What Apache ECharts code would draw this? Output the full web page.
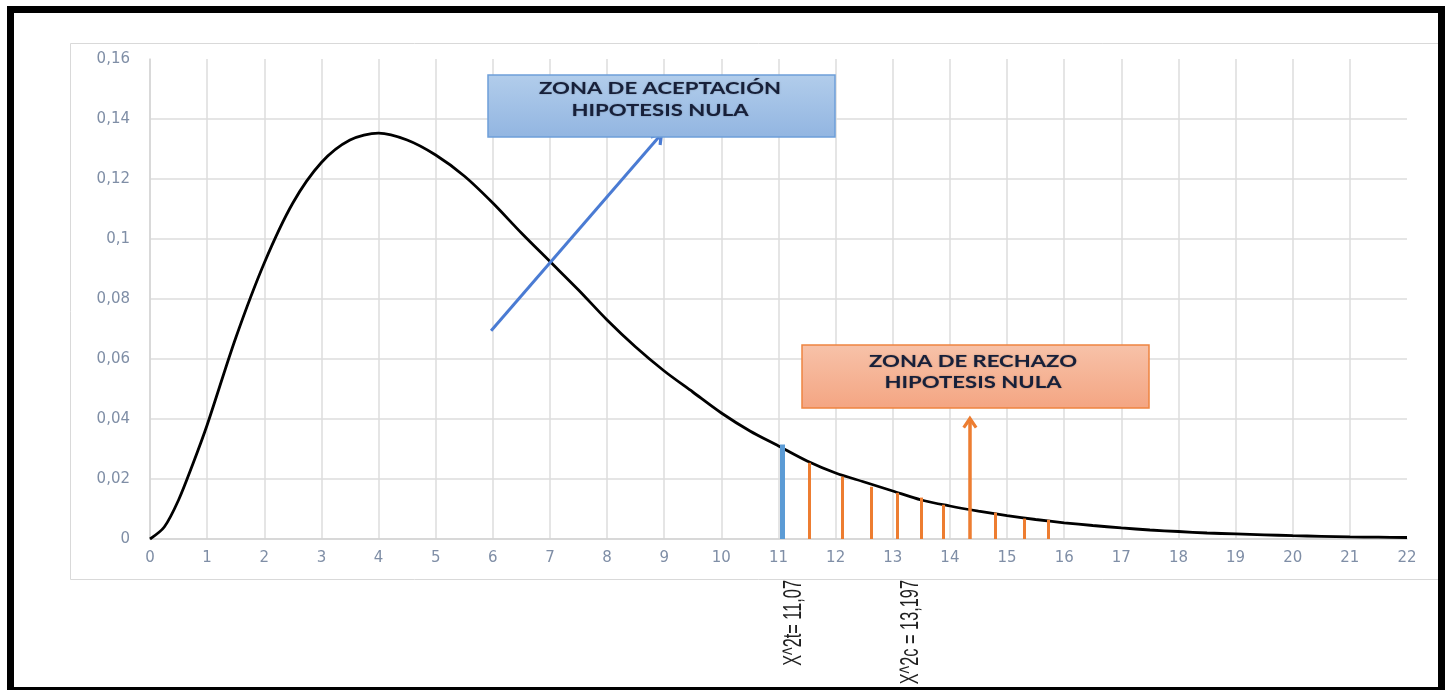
<!DOCTYPE html>
<html><head><meta charset="utf-8">
<script src="https://cdn.jsdelivr.net/npm/echarts@6/dist/echarts.min.js"></script>
<style>html,body{margin:0;padding:0;background:#fff}#c{width:1445px;height:690px}</style>
</head><body><div id="c"></div>
<script>
// ---- data ----
const xTickLabels = ['0','1','2','3','4','5','6','7','8','9','10','11','12','13','14','15','16','17','18','19','20','21','22'];
const yTickLabels = ['0','0,02','0,04','0,06','0,08','0,1','0,12','0,14','0,16'];

const curveX = [0,0.25,0.5,0.75,1,1.5,2,2.5,3,3.5,4,4.5,5,5.5,6,6.5,7,7.5,8,8.5,9,9.5,10,10.5,11,11.5,12,12.5,13,13.5,14,14.5,15,15.5,16,16.5,17,17.5,18,18.5,19,19.5,20,20.5,21,21.5,22];
const curveY = [0,0.004,0.013,0.025,0.038,0.067,0.092,0.112,0.1255,0.133,0.1353,0.133,0.128,0.121,0.112,0.102,0.0925,0.083,0.073,0.064,0.056,0.049,0.042,0.036,0.031,0.026,0.022,0.019,0.016,0.013,0.011,0.0093,0.0078,0.0065,0.0054,0.0045,0.0037,0.003,0.0025,0.002,0.0017,0.0014,0.0011,0.0009,0.0007,0.0006,0.0005];

const rejectStemX = [11.54,12.11,12.62,13.08,13.50,13.88,14.79,15.30,15.72];
const rejectStemY = [0.0254,0.0208,0.0174,0.0154,0.0138,0.0114,0.0088,0.0068,0.0064];

const criticalX = [11.06];
const criticalY = [0.0315];

const acceptArrowFrom = [5.97, 0.0694];
const acceptArrowTo = [8.91, 0.1341];
const rejectArrowFrom = [14.35, 0];
const rejectArrowTo = [14.35, 0.039];

const acceptText = 'ZONA DE ACEPTACIÓN\nHIPOTESIS NULA';
const rejectText = 'ZONA DE RECHAZO\nHIPOTESIS NULA';
const tLabel = 'X^2t= 11,07';
const cLabel = 'X^2c = 13,197';

// ---- chart ----
const chevron = 'path://M5,0 L10,8 L8.3,9.3 L5,4.4 L1.7,9.3 L0,8 Z';
const stems = (xs, ys) => xs.map((x, i) => [{coord: [x, 0]}, {coord: [x, ys[i]]}]);

const chart = echarts.init(document.getElementById('c'));
const labelColor = '#7f8ea6';
chart.setOption({
  animation: false,
  backgroundColor: '#fff',
  grid: {left: 150, right: 38, top: 59, bottom: 151, containLabel: false, outerBoundsMode: 'none'},
  xAxis: {
    type: 'value', min: 0, max: 22, interval: 1,
    axisLine: {show: true, lineStyle: {color: '#d4d4d4', width: 1.5}},
    axisTick: {show: false},
    axisLabel: {color: labelColor, fontFamily: 'DejaVu Sans', fontSize: 15, margin: 12,
      formatter: (v, i) => xTickLabels[i]},
    splitLine: {show: true, showMaxLine: false, lineStyle: {color: '#dcdcdc', width: 1.5}}
  },
  yAxis: {
    type: 'value', min: 0, max: 0.16, interval: 0.02,
    axisLine: {show: true, lineStyle: {color: '#d4d4d4', width: 1.5}},
    axisTick: {show: false},
    axisLabel: {color: labelColor, fontFamily: 'DejaVu Sans', fontSize: 15, margin: 20,
      formatter: (v, i) => yTickLabels[i]},
    splitLine: {show: true, showMaxLine: false, lineStyle: {color: '#dcdcdc', width: 1.5}}
  },
  series: [
    {
      type: 'line', name: 'curve', z: 3,
      data: curveX.map((x, i) => [x, curveY[i]]),
      smooth: 0.3, symbol: 'none',
      lineStyle: {color: '#000', width: 2.8}
    },
    {
      type: 'line', name: 'reject', data: [], z: 4,
      markLine: {silent: true, symbol: ['none', 'none'], label: {show: false},
        lineStyle: {color: '#ed7d31', width: 3, type: 'solid'},
        data: stems(rejectStemX, rejectStemY)}
    },
    {
      type: 'line', name: 'critical', data: [], z: 4,
      markLine: {silent: true, symbol: ['none', 'none'], label: {show: false},
        lineStyle: {color: '#5b9bd5', width: 5, type: 'solid'},
        data: stems(criticalX, criticalY)}
    },
    {
      type: 'line', name: 'arrows', data: [], z: 5,
      markLine: {silent: true, symbol: ['none', chevron], symbolSize: [15, 13], label: {show: false},
        data: [
          [{coord: acceptArrowFrom, lineStyle: {color: '#4a7bd3', width: 3, type: 'solid'}},
           {coord: acceptArrowTo}],
          [{coord: rejectArrowFrom, lineStyle: {color: '#ed7d31', width: 3.5, type: 'solid'}},
           {coord: rejectArrowTo}]
        ]}
    }
  ],
  graphic: [
    {type: 'rect', z: 0, silent: true, shape: {x: 70.5, y: 43.5, width: 1400, height: 536},
      style: {fill: 'none', stroke: '#d9d9d9', lineWidth: 1}},
    {type: 'rect', z: 50, shape: {x: 488, y: 75, width: 347, height: 62},
      style: {fill: new echarts.graphic.LinearGradient(0, 0, 0, 1, [{offset: 0, color: '#b2cdeb'}, {offset: 1, color: '#92b5e1'}]),
        stroke: '#6d9fd9', lineWidth: 1.5}},
    {type: 'text', z: 51, x: 660, y: 100, scaleX: 1.3, scaleY: 1,
      style: {text: acceptText, font: 'bold 17px Lato', fill: '#17203a', align: 'center', verticalAlign: 'middle',
        textAlign: 'center', textVerticalAlign: 'middle', lineHeight: 22, textShadowColor: 'rgba(0,0,0,0.35)', textShadowBlur: 1.5}},
    {type: 'rect', z: 50, shape: {x: 802, y: 345, width: 347, height: 63},
      style: {fill: new echarts.graphic.LinearGradient(0, 0, 0, 1, [{offset: 0, color: '#f7c2a9'}, {offset: 1, color: '#f4a582'}]),
        stroke: '#ee8440', lineWidth: 1.5}},
    {type: 'text', z: 51, x: 973, y: 372, scaleX: 1.3, scaleY: 1,
      style: {text: rejectText, font: 'bold 17px Lato', fill: '#17203a', align: 'center', verticalAlign: 'middle',
        textAlign: 'center', textVerticalAlign: 'middle', lineHeight: 21, textShadowColor: 'rgba(0,0,0,0.35)', textShadowBlur: 1.5}},
    {type: 'text', z: 51, x: 794, y: 580, rotation: Math.PI / 2, scaleX: 1.02, scaleY: 1.6,
      style: {text: tLabel, font: '16px "Liberation Sans"', fill: '#1f1f1f', align: 'right', verticalAlign: 'middle',
        textAlign: 'right', textVerticalAlign: 'middle'}},
    {type: 'text', z: 51, x: 911, y: 580, rotation: Math.PI / 2, scaleX: 1.02, scaleY: 1.6,
      style: {text: cLabel, font: '16px "Liberation Sans"', fill: '#1f1f1f', align: 'right', verticalAlign: 'middle',
        textAlign: 'right', textVerticalAlign: 'middle'}},
    {type: 'rect', z: 100, silent: true, shape: {x: 10.5, y: 9.5, width: 1431, height: 681},
      style: {fill: 'none', stroke: '#000', lineWidth: 7}}
  ]
});
</script>
</body></html>
